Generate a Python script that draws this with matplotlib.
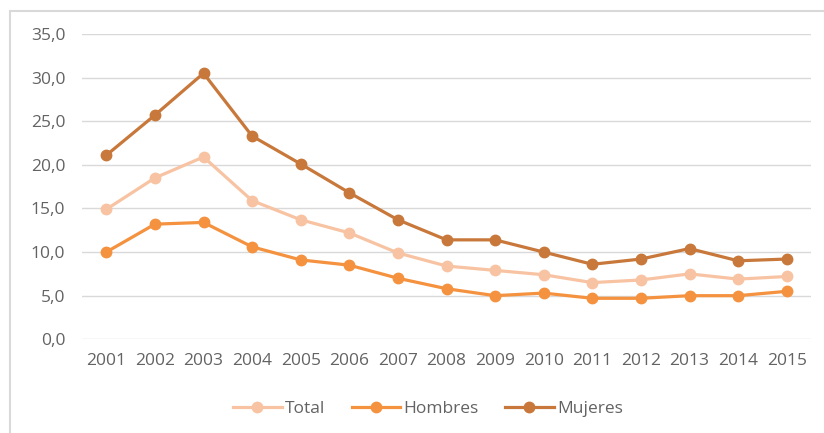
"""Tasa por sexo 2001-2015"""

import matplotlib
matplotlib.use("Agg")
import matplotlib.pyplot as plt
from matplotlib.patches import Rectangle
from matplotlib.ticker import FuncFormatter


YEARS = [str(y) for y in range(2001, 2016)]

TOTAL = [14.9, 18.5, 20.9, 15.9, 13.7, 12.2, 9.9, 8.4, 7.9, 7.4, 6.5, 6.8, 7.5, 6.9, 7.2]
HOMBRES = [10.0, 13.2, 13.4, 10.6, 9.1, 8.5, 7.0, 5.8, 5.0, 5.3, 4.7, 4.7, 5.0, 5.0, 5.5]
MUJERES = [21.1, 25.7, 30.5, 23.3, 20.1, 16.8, 13.7, 11.4, 11.4, 10.0, 8.6, 9.2, 10.4, 9.0, 9.2]

SERIES = [("Total", TOTAL, "#F8C3A2"),
          ("Hombres", HOMBRES, "#F4923F"),
          ("Mujeres", MUJERES, "#C8783A")]


def main():
    """
    Main
    """
    plt.rcParams["font.family"] = ["Open Sans", "DejaVu Sans"]
    fig = plt.figure(figsize=(8.24, 4.33), dpi=100)

    # outer chart border (only left/top visible in the crop)
    fig.patches.append(Rectangle((10 / 824, -0.1), 1.2, 1 - 11 / 433 + 0.1,
                                 transform=fig.transFigure, fill=False,
                                 ec="#D9D9D9", lw=1.5))

    ax = fig.add_axes([82 / 824, 1 - 339.3 / 433, 729 / 824, (339.3 - 34) / 433])
    x = range(len(YEARS))
    for name, vals, color in SERIES:
        ax.plot(x, vals, color=color, lw=2.3, marker="o", ms=7.5, label=name)

    ax.set_xlim(-0.5, len(YEARS) - 0.5)
    ax.set_ylim(0, 35)
    ax.set_yticks(range(0, 36, 5))
    ax.yaxis.set_major_formatter(FuncFormatter(lambda v, _: f"{v:.1f}".replace(".", ",")))
    ax.set_xticks(list(x))
    ax.set_xticklabels(YEARS)
    ax.tick_params(length=0, labelsize=12.5, labelcolor="#636363")
    ax.tick_params(axis="y", pad=12)
    ax.tick_params(axis="x", pad=10)
    ax.grid(True, axis="y", color="#D9D9D9", lw=1)
    ax.set_axisbelow(True)
    for s in ax.spines.values():
        s.set_visible(False)

    leg = fig.legend(loc="center", bbox_to_anchor=(428 / 824, 1 - 409 / 433),
                     ncol=3, frameon=False, fontsize=12.5, handlelength=2.8,
                     columnspacing=1.5, handletextpad=0.2)
    for t in leg.get_texts():
        t.set_color("#636363")

    fig.savefig("out.png", dpi=100)


main()
